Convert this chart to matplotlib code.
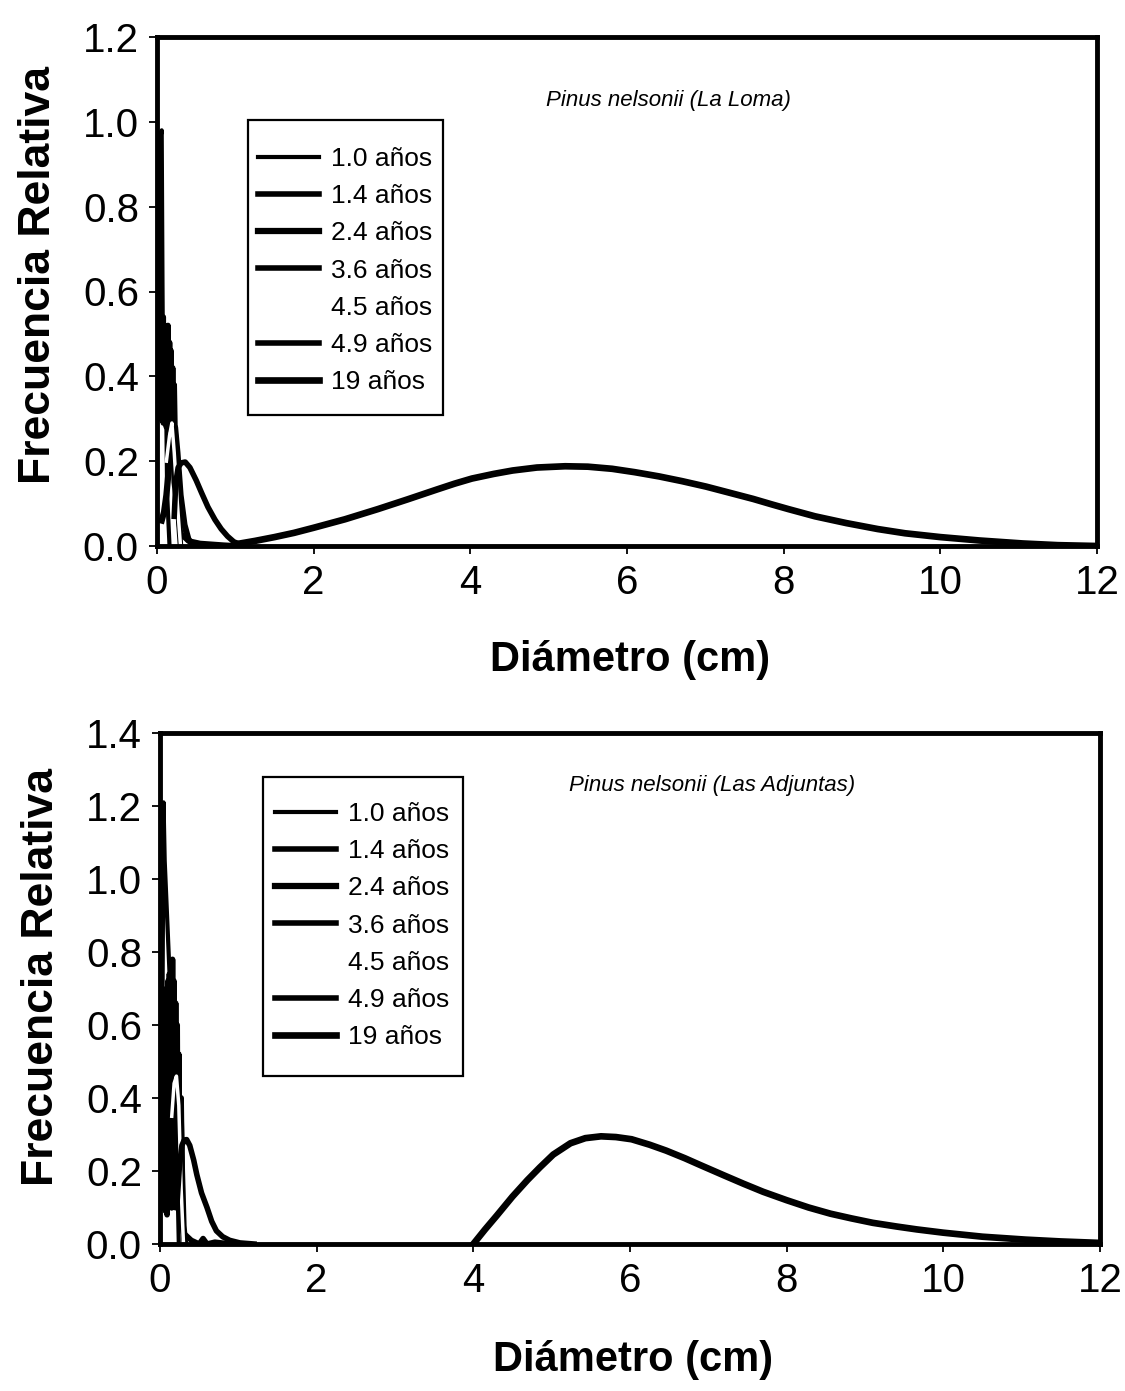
import matplotlib
matplotlib.use("Agg")
import matplotlib.pyplot as plt
from matplotlib.patches import Rectangle

plt.rcParams["font.family"] = ["Liberation Sans", "DejaVu Sans"]

LABELS = ["1.0 años", "1.4 años", "2.4 años", "3.6 años", "4.5 años", "4.9 años", "19 años"]
COLORS = ["black", "black", "black", "black", "white", "black", "black"]
WIDTHS = [3.0, 4.0, 4.5, 4.0, 2.5, 4.0, 4.8]

# --- Pinus nelsonii (La Loma) ---
loma_x = [
    [0.02, 0.04, 0.05, 0.06, 0.07, 0.08, 0.09, 0.10, 0.11, 0.13, 0.16],
    [0.03, 0.04, 0.05, 0.06, 0.07, 0.08, 0.09, 0.10, 0.11, 0.12, 0.13, 0.14, 0.15, 0.16,
     0.17, 0.18, 0.19, 0.20, 0.21, 0.22, 0.23, 0.24, 0.27, 0.30],
    [0.06, 0.09, 0.12, 0.15, 0.18, 0.21, 0.23, 0.26, 0.30, 0.35, 0.40, 0.45, 0.50],
    [0.04, 0.05, 0.06, 0.07, 0.08, 0.09, 0.10, 0.11, 0.12, 0.13, 0.14, 0.15, 0.16, 0.17,
     0.18, 0.19, 0.20, 0.22, 0.30, 0.40, 0.55, 0.70, 0.85, 0.95, 1.05],
    [0.12, 0.16, 0.19, 0.22, 0.26, 0.30],
    [0.22, 0.24, 0.27, 0.31, 0.36, 0.42, 0.50, 0.57, 0.65, 0.74, 0.82, 0.90, 0.98, 1.07],
    [1.00, 1.25, 1.50, 1.75, 2.00, 2.40, 2.82, 3.20, 3.57, 3.80, 4.02, 4.30, 4.54, 4.85,
     5.21, 5.50, 5.81, 6.10, 6.41, 6.70, 7.01, 7.30, 7.61, 7.85, 8.06, 8.40, 8.80, 9.20,
     9.55, 10.00, 10.50, 11.05, 11.50, 12.00],
]
loma_y = [
    [0.30, 0.75, 0.97, 0.98, 0.62, 0.33, 0.50, 0.31, 0.45, 0.12, 0.00],
    [0.40, 0.53, 0.31, 0.52, 0.30, 0.54, 0.32, 0.52, 0.30, 0.50, 0.31, 0.52, 0.30, 0.48,
     0.29, 0.46, 0.28, 0.42, 0.28, 0.38, 0.27, 0.25, 0.08, 0.00],
    [0.06, 0.08, 0.12, 0.18, 0.24, 0.27, 0.28, 0.22, 0.12, 0.05, 0.016, 0.004, 0.00],
    [0.30, 0.48, 0.30, 0.50, 0.29, 0.47, 0.31, 0.50, 0.28, 0.47, 0.30, 0.45, 0.28, 0.42,
     0.27, 0.40, 0.27, 0.15, 0.03, 0.012, 0.006, 0.004, 0.002, 0.001, 0.00],
    [0.20, 0.26, 0.29, 0.22, 0.10, 0.00],
    [0.07, 0.15, 0.185, 0.196, 0.198, 0.185, 0.155, 0.125, 0.092, 0.062, 0.040, 0.023, 0.010, 0.003],
    [0.004, 0.012, 0.021, 0.031, 0.043, 0.063, 0.087, 0.110, 0.133, 0.147, 0.159, 0.170, 0.178, 0.185,
     0.188, 0.187, 0.182, 0.174, 0.164, 0.153, 0.140, 0.126, 0.111, 0.098, 0.087, 0.070, 0.054, 0.040,
     0.030, 0.021, 0.013, 0.006, 0.002, 0.000],
]

# --- Pinus nelsonii (Las Adjuntas) ---
adj_x = [
    [0.03, 0.045, 0.06, 0.09, 0.12, 0.15, 0.19, 0.21, 0.24],
    [0.05, 0.06, 0.07, 0.08, 0.09, 0.10, 0.11, 0.12, 0.13, 0.14, 0.15, 0.16, 0.17, 0.18,
     0.19, 0.20, 0.21, 0.22, 0.23, 0.24, 0.25, 0.27, 0.29, 0.31],
    [0.06, 0.07, 0.08, 0.09, 0.10, 0.11, 0.12, 0.13, 0.14, 0.15, 0.16, 0.17, 0.18, 0.19,
     0.20, 0.21, 0.22, 0.23, 0.24, 0.25, 0.26, 0.28, 0.30, 0.32],
    [0.08, 0.10, 0.12, 0.14, 0.16, 0.18, 0.20, 0.22, 0.25, 0.30, 0.40, 0.50, 0.55, 0.60, 0.70, 0.90, 1.10],
    [0.15, 0.18, 0.21, 0.24, 0.27, 0.30],
    [0.22, 0.25, 0.28, 0.31, 0.34, 0.38, 0.43, 0.47, 0.53, 0.60, 0.66, 0.72, 0.80, 0.89, 1.02, 1.20],
    [4.00, 4.15, 4.30, 4.50, 4.69, 4.85, 5.02, 5.24, 5.43, 5.63, 5.82, 6.02, 6.25, 6.46,
     6.70, 6.90, 7.20, 7.45, 7.70, 8.00, 8.28, 8.56, 8.83, 9.10, 9.40, 9.66, 10.00, 10.50,
     11.05, 11.50, 12.00],
]
adj_y = [
    [0.58, 1.21, 1.05, 0.90, 0.75, 0.62, 0.50, 0.30, 0.00],
    [0.10, 0.60, 0.09, 0.70, 0.08, 0.72, 0.10, 0.74, 0.12, 0.76, 0.10, 0.78, 0.12, 0.72,
     0.10, 0.66, 0.12, 0.60, 0.10, 0.52, 0.10, 0.40, 0.05, 0.00],
    [0.60, 0.15, 0.62, 0.12, 0.60, 0.10, 0.62, 0.12, 0.58, 0.10, 0.56, 0.12, 0.55, 0.12,
     0.50, 0.10, 0.48, 0.12, 0.44, 0.10, 0.40, 0.20, 0.05, 0.00],
    [0.45, 0.20, 0.50, 0.20, 0.45, 0.20, 0.40, 0.20, 0.10, 0.03, 0.01, 0.00, 0.015, 0.00, 0.005, 0.00, 0.00],
    [0.35, 0.44, 0.46, 0.38, 0.15, 0.00],
    [0.12, 0.22, 0.27, 0.285, 0.286, 0.27, 0.23, 0.19, 0.14, 0.10, 0.062, 0.036, 0.020, 0.010, 0.003, 0.00],
    [0.000, 0.040, 0.078, 0.130, 0.175, 0.210, 0.245, 0.276, 0.290, 0.295, 0.293, 0.287, 0.272, 0.256,
     0.235, 0.216, 0.188, 0.165, 0.143, 0.120, 0.100, 0.083, 0.070, 0.058, 0.048, 0.040, 0.031, 0.020,
     0.012, 0.007, 0.003],
]

W, H = 1125, 1391
fig = plt.figure(figsize=(W / 100, H / 100), dpi=100)


def px(x, y):
    """pixel position (from top-left) to figure fraction"""
    return x / W, 1 - y / H


def panel(rect, xs, ys, ymax, title, title_xy, legend_box, legend_anchor, xlab_y, ylab_y):
    ax = fig.add_axes(rect)
    handles = []
    for x, y, lab, c, lw in zip(xs, ys, LABELS, COLORS, WIDTHS):
        (ln,) = ax.plot(x, y, color=c, lw=lw, label=lab)
        handles.append(ln)
    ax.set_xlim(0, 12)
    ax.set_ylim(0, ymax)
    n = int(round(ymax / 0.2))
    ax.set_xticks(range(0, 13, 2))
    ax.set_yticks([i * 0.2 for i in range(n + 1)])
    ax.set_yticklabels([f"{i * 0.2:.1f}" for i in range(n + 1)])
    for s in ax.spines.values():
        s.set_linewidth(3.5)
    ax.tick_params(direction="out", length=6, width=1.3, labelsize=29, pad=7)
    ax.set_xlabel("Diámetro (cm)", fontsize=30, fontweight="bold")
    ax.set_ylabel("Frecuencia Relativa", fontsize=32, fontweight="bold")
    ax.xaxis.set_label_coords(0.503, xlab_y)
    ax.yaxis.set_label_coords(-0.104, ylab_y)
    ax.text(*title_xy, title, fontsize=16, style="italic", ha="center", va="center")

    x0, y0, x1, y1 = legend_box
    fx0, fy1 = px(x0, y1)
    fx1, fy0 = px(x1, y0)
    fig.add_artist(Rectangle((fx0, fy1), fx1 - fx0, fy0 - fy1, transform=fig.transFigure,
                             fill=False, lw=1.6, ec="black"))
    fig.legend(handles=handles, loc="upper left", bbox_to_anchor=px(*legend_anchor),
               frameon=False, fontsize=19, borderpad=0, borderaxespad=0,
               handlelength=2.3, handletextpad=0.45, labelspacing=0.5)
    return ax


panel([157 / W, 1 - 546 / H, 940 / W, 509 / H], loma_x, loma_y, 1.2,
      "Pinus nelsonii (La Loma)", (6.53, 1.05),
      (248, 120, 443, 415), (258, 147), -0.185, 0.532)
panel([160 / W, 1 - 1244 / H, 940 / W, 511 / H], adj_x, adj_y, 1.4,
      "Pinus nelsonii (Las Adjuntas)", (7.05, 1.257),
      (263, 777, 463, 1076), (275, 802), -0.188, 0.522)

fig.savefig("out.png", dpi=100)
